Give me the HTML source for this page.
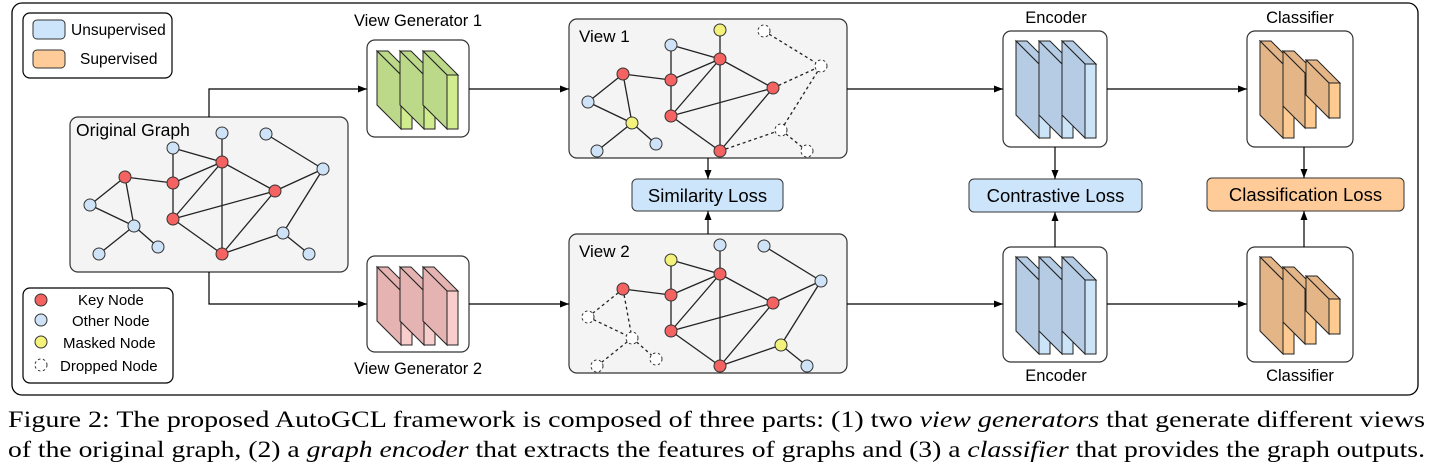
<!DOCTYPE html>
<html><head><meta charset="utf-8"><style>
html,body{margin:0;padding:0;background:#fff;width:1431px;height:467px;overflow:hidden}
svg{display:block}
text.ss{font-family:"Liberation Sans",sans-serif;fill:#000}
text.cap{font-family:"Liberation Serif","Times New Roman",serif;font-size:23px;fill:#000}
</style></head><body>
<svg id="s" width="1431" height="467" viewBox="0 0 1431 467" xmlns="http://www.w3.org/2000/svg">
<defs><marker id="ar" markerWidth="10" markerHeight="10" refX="9" refY="5" orient="auto" markerUnits="userSpaceOnUse"><path d="M0,1.5 L9,5 L0,8.5 Z" fill="#000"/></marker></defs>
<rect x="12" y="3" width="1406" height="392" rx="10" fill="#fff" stroke="#000" stroke-width="1.3"/>
<rect x="23" y="13" width="149" height="65" rx="7" fill="#fff" stroke="#000" stroke-width="1.2"/>
<rect x="33" y="20" width="32" height="19" rx="4" fill="#cce5fb" stroke="#333"/>
<rect x="33" y="50" width="32" height="18" rx="4" fill="#ffcc99" stroke="#333"/>
<text class="ss" x="71" y="35" font-size="15.5">Unsupervised</text>
<text class="ss" x="80" y="64" font-size="15.5">Supervised</text>
<rect x="23" y="288" width="150" height="95" rx="7" fill="#fff" stroke="#000" stroke-width="1.2"/>
<circle cx="41" cy="300" r="6" fill="#f56262" stroke="#333"/>
<circle cx="41" cy="320" r="6" fill="#cfe3f8" stroke="#333"/>
<circle cx="41" cy="342" r="6" fill="#f5f27c" stroke="#333"/>
<circle cx="41" cy="365" r="6" fill="none" stroke="#333" stroke-dasharray="2.5,2.5"/>
<text class="ss" x="78" y="305" font-size="15">Key Node</text>
<text class="ss" x="72" y="326" font-size="15">Other Node</text>
<text class="ss" x="63" y="348" font-size="15">Masked Node</text>
<text class="ss" x="60" y="371" font-size="15">Dropped Node</text>
<rect x="70" y="117" width="278" height="155" rx="8" fill="#f4f4f4" stroke="#333" stroke-width="1.2"/>
<text class="ss" x="76" y="136" font-size="17.5">Original Graph</text>
<rect x="569" y="19" width="278" height="139" rx="8" fill="#f4f4f4" stroke="#333" stroke-width="1.2"/>
<text class="ss" x="579" y="42" font-size="17">View 1</text>
<rect x="569" y="234" width="278" height="139" rx="8" fill="#f4f4f4" stroke="#333" stroke-width="1.2"/>
<text class="ss" x="579" y="257" font-size="17">View 2</text>
<rect x="367" y="40" width="102" height="97" rx="8" fill="#fff" stroke="#333" stroke-width="1.2"/>
<rect x="367" y="256" width="102" height="96" rx="8" fill="#fff" stroke="#333" stroke-width="1.2"/>
<rect x="1003" y="31" width="104" height="116" rx="8" fill="#fff" stroke="#333" stroke-width="1.2"/>
<rect x="1003" y="247" width="104" height="115" rx="8" fill="#fff" stroke="#333" stroke-width="1.2"/>
<rect x="1247" y="31" width="106" height="116" rx="8" fill="#fff" stroke="#333" stroke-width="1.2"/>
<rect x="1247" y="247" width="106" height="115" rx="8" fill="#fff" stroke="#333" stroke-width="1.2"/>
<text class="ss" x="418" y="26" font-size="16.5" text-anchor="middle">View Generator 1</text>
<text class="ss" x="418" y="374" font-size="16.5" text-anchor="middle">View Generator 2</text>
<text class="ss" x="1056" y="23" font-size="16.5" text-anchor="middle">Encoder</text>
<text class="ss" x="1056" y="381" font-size="16.5" text-anchor="middle">Encoder</text>
<text class="ss" x="1300" y="23" font-size="16.5" text-anchor="middle">Classifier</text>
<text class="ss" x="1300" y="381" font-size="16.5" text-anchor="middle">Classifier</text>
<rect x="632" y="179" width="151" height="32" rx="5" fill="#cce5fb" stroke="#333"/>
<text class="ss" x="707.5" y="202" font-size="18.5" text-anchor="middle">Similarity Loss</text>
<rect x="969" y="179" width="173" height="33" rx="5" fill="#cce5fb" stroke="#333"/>
<text class="ss" x="1055.5" y="202" font-size="18.5" text-anchor="middle">Contrastive Loss</text>
<rect x="1207" y="178" width="197" height="33" rx="5" fill="#ffcc99" stroke="#333"/>
<text class="ss" x="1305.5" y="201" font-size="18.5" text-anchor="middle">Classification Loss</text>
<g stroke="#000" stroke-width="1.2" fill="none">
<path d="M209,117 V89 H367" marker-end="url(#ar)"/>
<path d="M209,272 V304 H367" marker-end="url(#ar)"/>
<path d="M469,89 H569" marker-end="url(#ar)"/>
<path d="M469,304 H569" marker-end="url(#ar)"/>
<path d="M847,89 H1003" marker-end="url(#ar)"/>
<path d="M847,304 H1003" marker-end="url(#ar)"/>
<path d="M1107,89 H1247" marker-end="url(#ar)"/>
<path d="M1107,304 H1247" marker-end="url(#ar)"/>
<path d="M708,158 V179" marker-end="url(#ar)"/>
<path d="M708,234 V211" marker-end="url(#ar)"/>
<path d="M1055,147 V179" marker-end="url(#ar)"/>
<path d="M1055,247 V212" marker-end="url(#ar)"/>
<path d="M1304,147 V178" marker-end="url(#ar)"/>
<path d="M1304,247 V211" marker-end="url(#ar)"/>
</g>
<g id="dyn"></g>
<text class="cap" font-family="Liberation Serif, serif" x="8" y="427" textLength="1417" lengthAdjust="spacingAndGlyphs">Figure 2: The proposed AutoGCL framework is composed of three parts: (1) two <tspan font-style="italic">view generators</tspan> that generate different views</text>
<text class="cap" font-family="Liberation Serif, serif" x="8" y="457" textLength="1417" lengthAdjust="spacingAndGlyphs">of the original graph, (2) a <tspan font-style="italic">graph encoder</tspan> that extracts the features of graphs and (3) a <tspan font-style="italic">classifier</tspan> that provides the graph outputs.</text>
</svg>
<script>
var g=document.getElementById('dyn'),NS='http://www.w3.org/2000/svg';
function el(t,a){var e=document.createElementNS(NS,t);for(var k in a)e.setAttribute(k,a[k]);g.appendChild(e);return e;}
var N=[[222,133],[266,134],[173,148],[222,162],[125,177],[173,183],[323,169],[275,191],[90,205],[173,219],[134,226],[283,233],[158,247],[99,254],[222,254],[309,254]];
var E=[[0,3],[2,3],[2,5],[3,5],[3,9],[3,14],[3,7],[4,5],[4,8],[4,10],[8,10],[10,13],[10,12],[5,9],[9,7],[9,14],[14,7],[14,11],[11,6],[7,6],[1,6],[11,15]];
var R=[3,4,5,7,9,14];
function graph(dx,dy,yel,drop){
 E.forEach(function(e){var d=drop.indexOf(e[0])>=0||drop.indexOf(e[1])>=0;
  el('line',{x1:N[e[0]][0]+dx,y1:N[e[0]][1]+dy,x2:N[e[1]][0]+dx,y2:N[e[1]][1]+dy,stroke:'#222','stroke-width':1.3,'stroke-dasharray':d?'3,3':'none'});});
 N.forEach(function(n,i){var f=R.indexOf(i)>=0?'#f56262':(yel.indexOf(i)>=0?'#f5f27c':'#cfe3f8');
  if(drop.indexOf(i)>=0)el('circle',{cx:n[0]+dx,cy:n[1]+dy,r:6,fill:'#fff',stroke:'#333','stroke-dasharray':'2.5,2.5'});
  else el('circle',{cx:n[0]+dx,cy:n[1]+dy,r:6,fill:f,stroke:'#333','stroke-width':1});});
}
graph(0,0,[],[]);
graph(498,-103,[0,10],[1,6,11,15]);
graph(498,112,[2,11],[8,10,13,12]);
function slab(bx,by,d,w,h,sh,side,front){
 el('polygon',{points:[bx,by,bx+w,by,bx+w+d,by+d,bx+d,by+d].join(','),fill:side,stroke:'#222','stroke-width':1});
 el('polygon',{points:[bx,by,bx+d,by+d,bx+d,by+d+h,bx,by+sh].join(','),fill:side,stroke:'#222','stroke-width':1});
 el('rect',{x:bx+d,y:by+d,width:w,height:h,fill:front,stroke:'#222','stroke-width':1});
}
[0,23,46].forEach(function(o){slab(377+o,51,24,11,54,54,'#bcd98a','#d1ec8e');});
[0,23,46].forEach(function(o){slab(377+o,267,24,11,54,54,'#e6b3b3','#f8cecc');});
[0,23,46].forEach(function(o){slab(1016+o,41,23,11,74,74,'#b5cce4','#cce4f8');});
[0,23,46].forEach(function(o){slab(1016+o,257,23,11,74,74,'#b5cce4','#cce4f8');});
[0,216].forEach(function(y){
 slab(1260,41+y,23,11,74,74,'#e4b587','#fdcb92');
 slab(1283,51+y,22,11,55,55,'#e4b587','#fdcb92');
 slab(1306,60+y,23,11,35,35,'#e4b587','#fdcb92');});
</script>
</body></html>
